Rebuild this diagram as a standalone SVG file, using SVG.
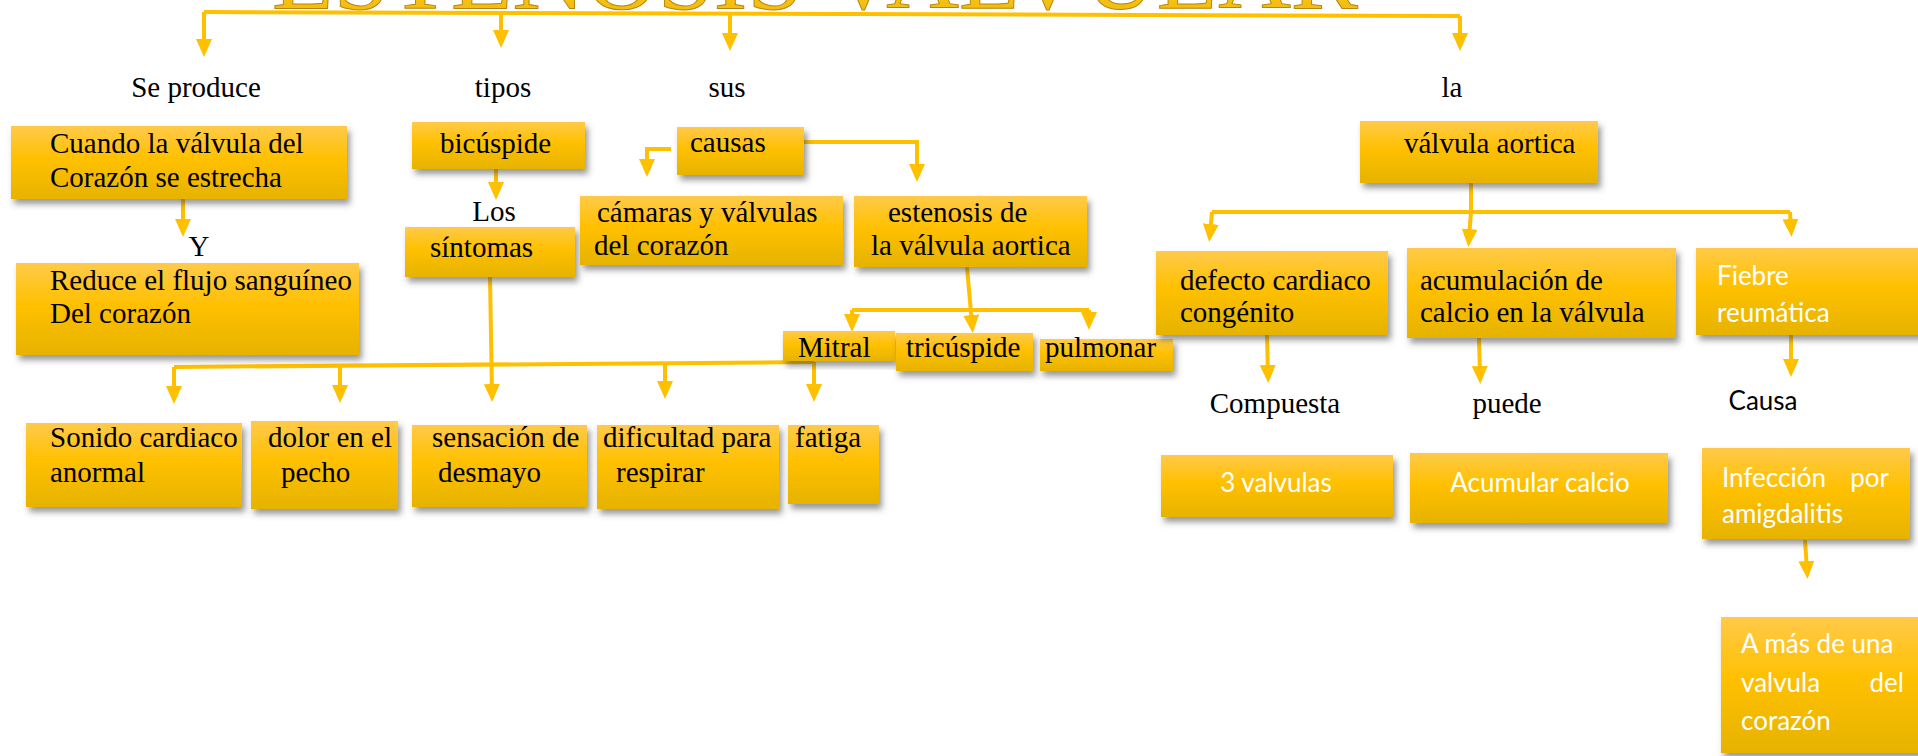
<svg xmlns="http://www.w3.org/2000/svg" width="1918" height="756" viewBox="0 0 1918 756">
<defs>
<linearGradient id="gold" x1="0" y1="0" x2="0" y2="1">
<stop offset="0" stop-color="#FFCA4A"/>
<stop offset="0.45" stop-color="#FFC000"/>
<stop offset="1" stop-color="#E6B300"/>
</linearGradient>
<linearGradient id="titleg" x1="0" y1="0" x2="0" y2="1">
<stop offset="0" stop-color="#FFE680"/>
<stop offset="0.9" stop-color="#F2B800"/>
<stop offset="1" stop-color="#B88A00"/>
</linearGradient>
<filter id="sh" x="-10%" y="-10%" width="130%" height="140%">
<feDropShadow dx="3" dy="5" stdDeviation="3" flood-color="#444" flood-opacity="0.55"/>
</filter>
<marker id="ah" viewBox="0 0 18 16" refX="9" refY="8" markerWidth="18" markerHeight="16" markerUnits="userSpaceOnUse" orient="auto">
<path d="M0,0 L18,8 L0,16 z" fill="#FFC000"/>
</marker>
<style>
.box{fill:url(#gold);filter:url(#sh);}
.t{font-family:"Liberation Serif","Times New Roman",serif;font-size:29px;fill:#000;}
.w{font-family:Lato,"Open Sans",sans-serif;font-size:26px;fill:#fff;}
.k{font-family:Lato,"Open Sans",sans-serif;font-size:26px;fill:#000;}
.c{fill:none;stroke:#FFC000;stroke-width:4;}
.a{marker-end:url(#ah);}
.m{text-anchor:middle;}
</style>
</defs>

<g id="title">
<text x="272" y="8" font-family="Liberation Serif, serif" font-size="100" textLength="1086" lengthAdjust="spacingAndGlyphs" fill="url(#titleg)" stroke="#B8860B" stroke-width="1">ESTENOSIS VALVULAR</text>
</g>

<g id="connectors">
<path class="c" d="M204,12 L1460,16"/>
<path class="c a" d="M204,12 V48"/>
<path class="c a" d="M501,13 V39"/>
<path class="c a" d="M730,14 V42"/>
<path class="c a" d="M1460,16 V42"/>
<path class="c a" d="M183,198 V228"/>
<path class="c a" d="M496,169 V191"/>
<path class="c a" d="M490,277 L492,393"/>
<path class="c" d="M174,367 L814,362"/>
<path class="c a" d="M174,367 V395"/>
<path class="c a" d="M340,366 V394"/>
<path class="c a" d="M665,363 V390"/>
<path class="c a" d="M814,362 V393"/>
<path class="c a" d="M671,149 H647 V168"/>
<path class="c a" d="M804,142 H917 V173"/>
<path class="c a" d="M967,267 L972,324"/>
<path class="c" d="M852,310 H1089"/>
<path class="c a" d="M852,310 V323"/>
<path class="c a" d="M1089,310 V321"/>
<path class="c" d="M1471,183 V212"/>
<path class="c" d="M1212,212 H1790"/>
<path class="c a" d="M1212,212 L1210,233"/>
<path class="c a" d="M1471,212 L1469,238"/>
<path class="c a" d="M1790,212 L1791,228"/>
<path class="c a" d="M1267,335 L1268,374"/>
<path class="c a" d="M1479,338 L1480,375"/>
<path class="c a" d="M1791,335 V368"/>
<path class="c a" d="M1805,540 L1807,570"/>
</g>

<g id="lbl-se-produce"><text class="t m" x="196" y="97">Se produce</text></g>
<g id="lbl-tipos"><text class="t m" x="503" y="97">tipos</text></g>
<g id="lbl-sus"><text class="t m" x="727" y="97">sus</text></g>
<g id="lbl-la"><text class="t m" x="1452" y="97">la</text></g>

<g id="n-cuando">
<rect class="box" x="11" y="126" width="336" height="73"/>
<text class="t" x="50" y="153">Cuando la válvula del</text>
<text class="t" x="50" y="187">Corazón se estrecha</text>
</g>
<g id="lbl-y"><text class="t m" x="199" y="256">Y</text></g>
<g id="n-reduce">
<rect class="box" x="16" y="263" width="343" height="92"/>
<text class="t" x="50" y="290">Reduce el flujo sanguíneo</text>
<text class="t" x="50" y="323">Del corazón</text>
</g>

<g id="n-bicuspide">
<rect class="box" x="412" y="122" width="173" height="47"/>
<text class="t" x="440" y="153">bicúspide</text>
</g>
<g id="lbl-los"><text class="t m" x="494" y="221">Los</text></g>
<g id="n-sintomas">
<rect class="box" x="405" y="227" width="170" height="50"/>
<text class="t" x="430" y="257">síntomas</text>
</g>

<g id="n-causas">
<rect class="box" x="677" y="127" width="127" height="48"/>
<text class="t" x="690" y="152">causas</text>
</g>
<g id="n-camaras">
<rect class="box" x="580" y="196" width="263" height="69"/>
<text class="t" x="597" y="222">cámaras y válvulas</text>
<text class="t" x="594" y="255">del corazón</text>
</g>
<g id="n-estenosis">
<rect class="box" x="854" y="196" width="233" height="71"/>
<text class="t" x="888" y="222">estenosis de</text>
<text class="t" x="871" y="255">la válvula aortica</text>
</g>
<g id="n-mitral">
<rect class="box" x="783" y="331" width="112" height="30"/>
<text class="t" x="798" y="357">Mitral</text>
</g>
<g id="n-tricuspide">
<rect class="box" x="896" y="333" width="137" height="38"/>
<text class="t" x="906" y="357">tricúspide</text>
</g>
<g id="n-pulmonar">
<rect class="box" x="1040" y="339" width="133" height="32"/>
<text class="t" x="1045" y="357">pulmonar</text>
</g>

<g id="n-sonido">
<rect class="box" x="26" y="423" width="216" height="84"/>
<text class="t" x="50" y="447">Sonido cardiaco</text>
<text class="t" x="50" y="482">anormal</text>
</g>
<g id="n-dolor">
<rect class="box" x="251" y="421" width="147" height="88"/>
<text class="t" x="268" y="447">dolor en el</text>
<text class="t" x="281" y="482">pecho</text>
</g>
<g id="n-sensacion">
<rect class="box" x="412" y="425" width="175" height="82"/>
<text class="t" x="432" y="447">sensación de</text>
<text class="t" x="438" y="482">desmayo</text>
</g>
<g id="n-dificultad">
<rect class="box" x="597" y="425" width="182" height="84"/>
<text class="t" x="603" y="447">dificultad para</text>
<text class="t" x="616" y="482">respirar</text>
</g>
<g id="n-fatiga">
<rect class="box" x="788" y="425" width="91" height="79"/>
<text class="t" x="795" y="447">fatiga</text>
</g>

<g id="n-valvula-aortica">
<rect class="box" x="1360" y="121" width="238" height="62"/>
<text class="t" x="1404" y="153">válvula aortica</text>
</g>
<g id="n-defecto">
<rect class="box" x="1156" y="251" width="232" height="84"/>
<text class="t" x="1180" y="290">defecto cardiaco</text>
<text class="t" x="1180" y="322">congénito</text>
</g>
<g id="n-acumulacion">
<rect class="box" x="1407" y="248" width="269" height="90"/>
<text class="t" x="1420" y="290">acumulación de</text>
<text class="t" x="1420" y="322">calcio en la válvula</text>
</g>
<g id="n-fiebre">
<rect class="box" x="1696" y="248" width="240" height="87"/>
<text class="w" x="1717" y="285">Fiebre</text>
<text class="w" x="1717" y="322">reumática</text>
</g>

<g id="lbl-compuesta"><text class="t m" x="1275" y="413">Compuesta</text></g>
<g id="lbl-puede"><text class="t m" x="1507" y="413">puede</text></g>
<g id="lbl-causa"><text class="k m" x="1763" y="410">Causa</text></g>

<g id="n-3valvulas">
<rect class="box" x="1161" y="455" width="232" height="62"/>
<text class="w m" x="1276" y="492">3 valvulas</text>
</g>
<g id="n-acumular">
<rect class="box" x="1410" y="453" width="258" height="70"/>
<text class="w m" x="1540" y="492">Acumular calcio</text>
</g>
<g id="n-infeccion">
<rect class="box" x="1702" y="448" width="208" height="91"/>
<text class="w" x="1722" y="487">Infección</text>
<text class="w" x="1889" y="487" text-anchor="end">por</text>
<text class="w" x="1722" y="523">amigdalitis</text>
</g>
<g id="n-a-mas">
<rect class="box" x="1721" y="617" width="215" height="136"/>
<text class="w" x="1741" y="653">A más de una</text>
<text class="w" x="1741" y="692">valvula</text>
<text class="w" x="1904" y="692" text-anchor="end">del</text>
<text class="w" x="1741" y="730">corazón</text>
</g>
</svg>
